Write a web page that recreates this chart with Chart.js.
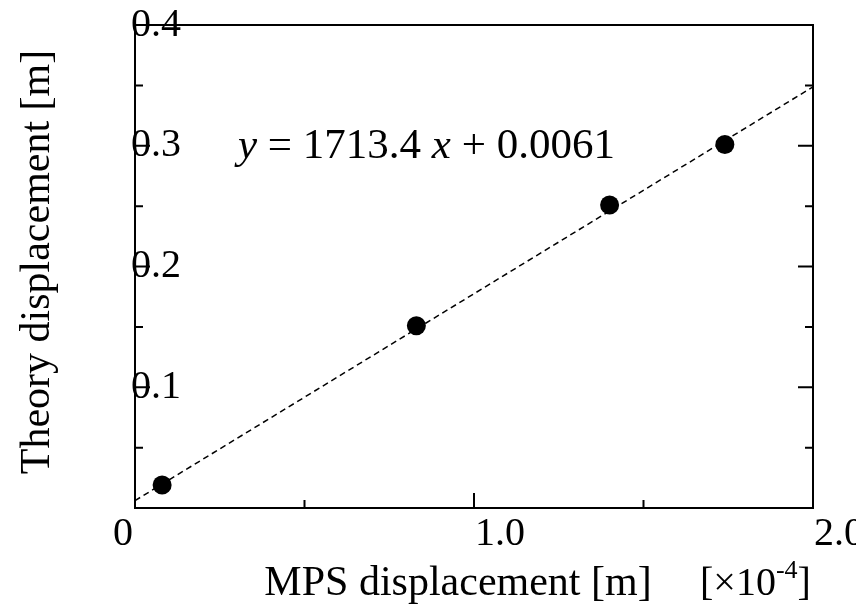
<!DOCTYPE html>
<html>
<head>
<meta charset="utf-8">
<script src="https://cdn.jsdelivr.net/npm/chart.js@4.4.1/dist/chart.umd.min.js"></script>
<style>
  html, body { margin: 0; padding: 0; background: #ffffff; }
  #wrap { width: 856px; height: 607px; }
</style>
</head>
<body>
<div id="wrap"><canvas id="chart" width="856" height="607"></canvas></div>
<script>
// Measured displacements: MPS result (x, in units of 1e-4 m) vs. theory (y, m)
const mpsDisplacement = [0.08, 0.83, 1.40, 1.74];
const theoryDisplacement = [0.019, 0.151, 0.251, 0.301];

// Least-squares fit  y = slope * x + intercept  (x in metres)
const fitSlope = 1713.4;
const fitIntercept = 0.0061;
const xUnitExponent = -4;

// Axis ranges and tick labels
const xRange = [0, 2];
const yRange = [0, 0.4];
const xTickValues = [0, 1, 2];
const xTickLabels = ['0', '1.0', '2.0'];
const xMinorTicks = [0.5, 1.5];
const yTickValues = [0.1, 0.2, 0.3, 0.4];
const yTickLabels = ['0.1', '0.2', '0.3', '0.4'];
const yMinorTicks = [0.05, 0.15, 0.25, 0.35];

const xTitle = 'MPS displacement [m]';
const yTitle = 'Theory displacement [m]';

// Fit line across the full x range
const xScaleFactor = Math.pow(10, xUnitExponent);
const fitLine = xRange.map(x => ({ x: x, y: fitSlope * x * xScaleFactor + fitIntercept }));
const points = mpsDisplacement.map((x, i) => ({ x: x, y: theoryDisplacement[i] }));

const SERIF = '"Liberation Serif", "Times New Roman", Times, serif';

const framePlugin = {
  id: 'frameAndLabels',
  afterDraw(chart) {
    const ctx = chart.ctx;
    const a = chart.chartArea;
    const xs = chart.scales.x;
    const ys = chart.scales.y;
    ctx.save();
    ctx.strokeStyle = '#000';
    ctx.fillStyle = '#000';

    // frame
    ctx.lineWidth = 2;
    ctx.strokeRect(a.left, a.top, a.right - a.left, a.bottom - a.top);

    // inward tick marks
    const major = 15, minor = 8;
    ctx.lineWidth = 2;
    ctx.beginPath();
    xTickValues.forEach(v => {
      const px = xs.getPixelForValue(v);
      ctx.moveTo(px, a.bottom); ctx.lineTo(px, a.bottom - major);
    });
    xMinorTicks.forEach(v => {
      const px = xs.getPixelForValue(v);
      ctx.moveTo(px, a.bottom); ctx.lineTo(px, a.bottom - minor);
    });
    yTickValues.forEach(v => {
      const py = ys.getPixelForValue(v);
      ctx.moveTo(a.left, py); ctx.lineTo(a.left + major, py);
      ctx.moveTo(a.right, py); ctx.lineTo(a.right - major, py);
    });
    yMinorTicks.forEach(v => {
      const py = ys.getPixelForValue(v);
      ctx.moveTo(a.left, py); ctx.lineTo(a.left + minor, py);
      ctx.moveTo(a.right, py); ctx.lineTo(a.right - minor, py);
    });
    ctx.stroke();

    // y tick labels, starting at the axis line
    ctx.font = '40px ' + SERIF;
    ctx.textAlign = 'left';
    ctx.textBaseline = 'middle';
    yTickValues.forEach((v, i) => {
      ctx.fillText(yTickLabels[i], a.left - 4, ys.getPixelForValue(v));
    });

    // x tick labels
    ctx.textBaseline = 'alphabetic';
    xTickValues.forEach((v, i) => {
      const px = xs.getPixelForValue(v);
      if (i === 0) {
        ctx.textAlign = 'right';
        ctx.fillText(xTickLabels[i], px - 2, a.bottom + 37);
      } else {
        ctx.textAlign = 'left';
        ctx.fillText(xTickLabels[i], px + 1, a.bottom + 37);
      }
    });

    // x axis title
    ctx.font = '42px ' + SERIF;
    ctx.textAlign = 'center';
    ctx.fillText(xTitle, 458, 595);

    // unit multiplier  [×10^-4]
    ctx.textAlign = 'left';
    let ux = 700;
    ctx.font = '40px ' + SERIF;
    const pre = '[\u00d710';
    ctx.fillText(pre, ux, 595);
    ux += ctx.measureText(pre).width;
    ctx.font = '26px ' + SERIF;
    const sup = '-' + Math.abs(xUnitExponent);
    ctx.fillText(sup, ux, 578);
    ux += ctx.measureText(sup).width;
    ctx.font = '40px ' + SERIF;
    ctx.fillText(']', ux, 595);

    // y axis title
    ctx.save();
    ctx.translate(49, 262);
    ctx.rotate(-Math.PI / 2);
    ctx.font = '42px ' + SERIF;
    ctx.textAlign = 'center';
    ctx.fillText(yTitle, 0, 0);
    ctx.restore();

    // regression equation
    const parts = [
      { t: 'y', it: true },
      { t: ' = ' + fitSlope.toFixed(1) + ' ', it: false },
      { t: 'x', it: true },
      { t: ' + ' + fitIntercept.toFixed(4), it: false }
    ];
    let ex = 238;
    parts.forEach(p => {
      ctx.font = (p.it ? 'italic ' : '') + '43px ' + SERIF;
      ctx.fillText(p.t, ex, 158);
      ex += ctx.measureText(p.t).width;
    });

    ctx.restore();
  }
};

new Chart(document.getElementById('chart'), {
  type: 'scatter',
  data: {
    datasets: [
      {
        type: 'line',
        data: fitLine,
        borderColor: '#000',
        borderWidth: 1.5,
        borderDash: [6, 4],
        pointRadius: 0,
        fill: false,
        order: 2
      },
      {
        data: points,
        backgroundColor: '#000',
        borderColor: '#000',
        borderWidth: 0,
        pointRadius: 9.5,
        pointHoverRadius: 9.5,
        order: 1
      }
    ]
  },
  options: {
    responsive: false,
    animation: false,
    devicePixelRatio: 1,
    layout: { padding: { left: 135, right: 43, top: 25, bottom: 99 } },
    plugins: { legend: { display: false }, tooltip: { enabled: false } },
    scales: {
      x: {
        type: 'linear', min: xRange[0], max: xRange[1],
        ticks: { display: false },
        grid: { display: false, drawTicks: false },
        border: { display: false }
      },
      y: {
        type: 'linear', min: yRange[0], max: yRange[1],
        ticks: { display: false },
        grid: { display: false, drawTicks: false },
        border: { display: false }
      }
    }
  },
  plugins: [framePlugin]
});
</script>
</body>
</html>
